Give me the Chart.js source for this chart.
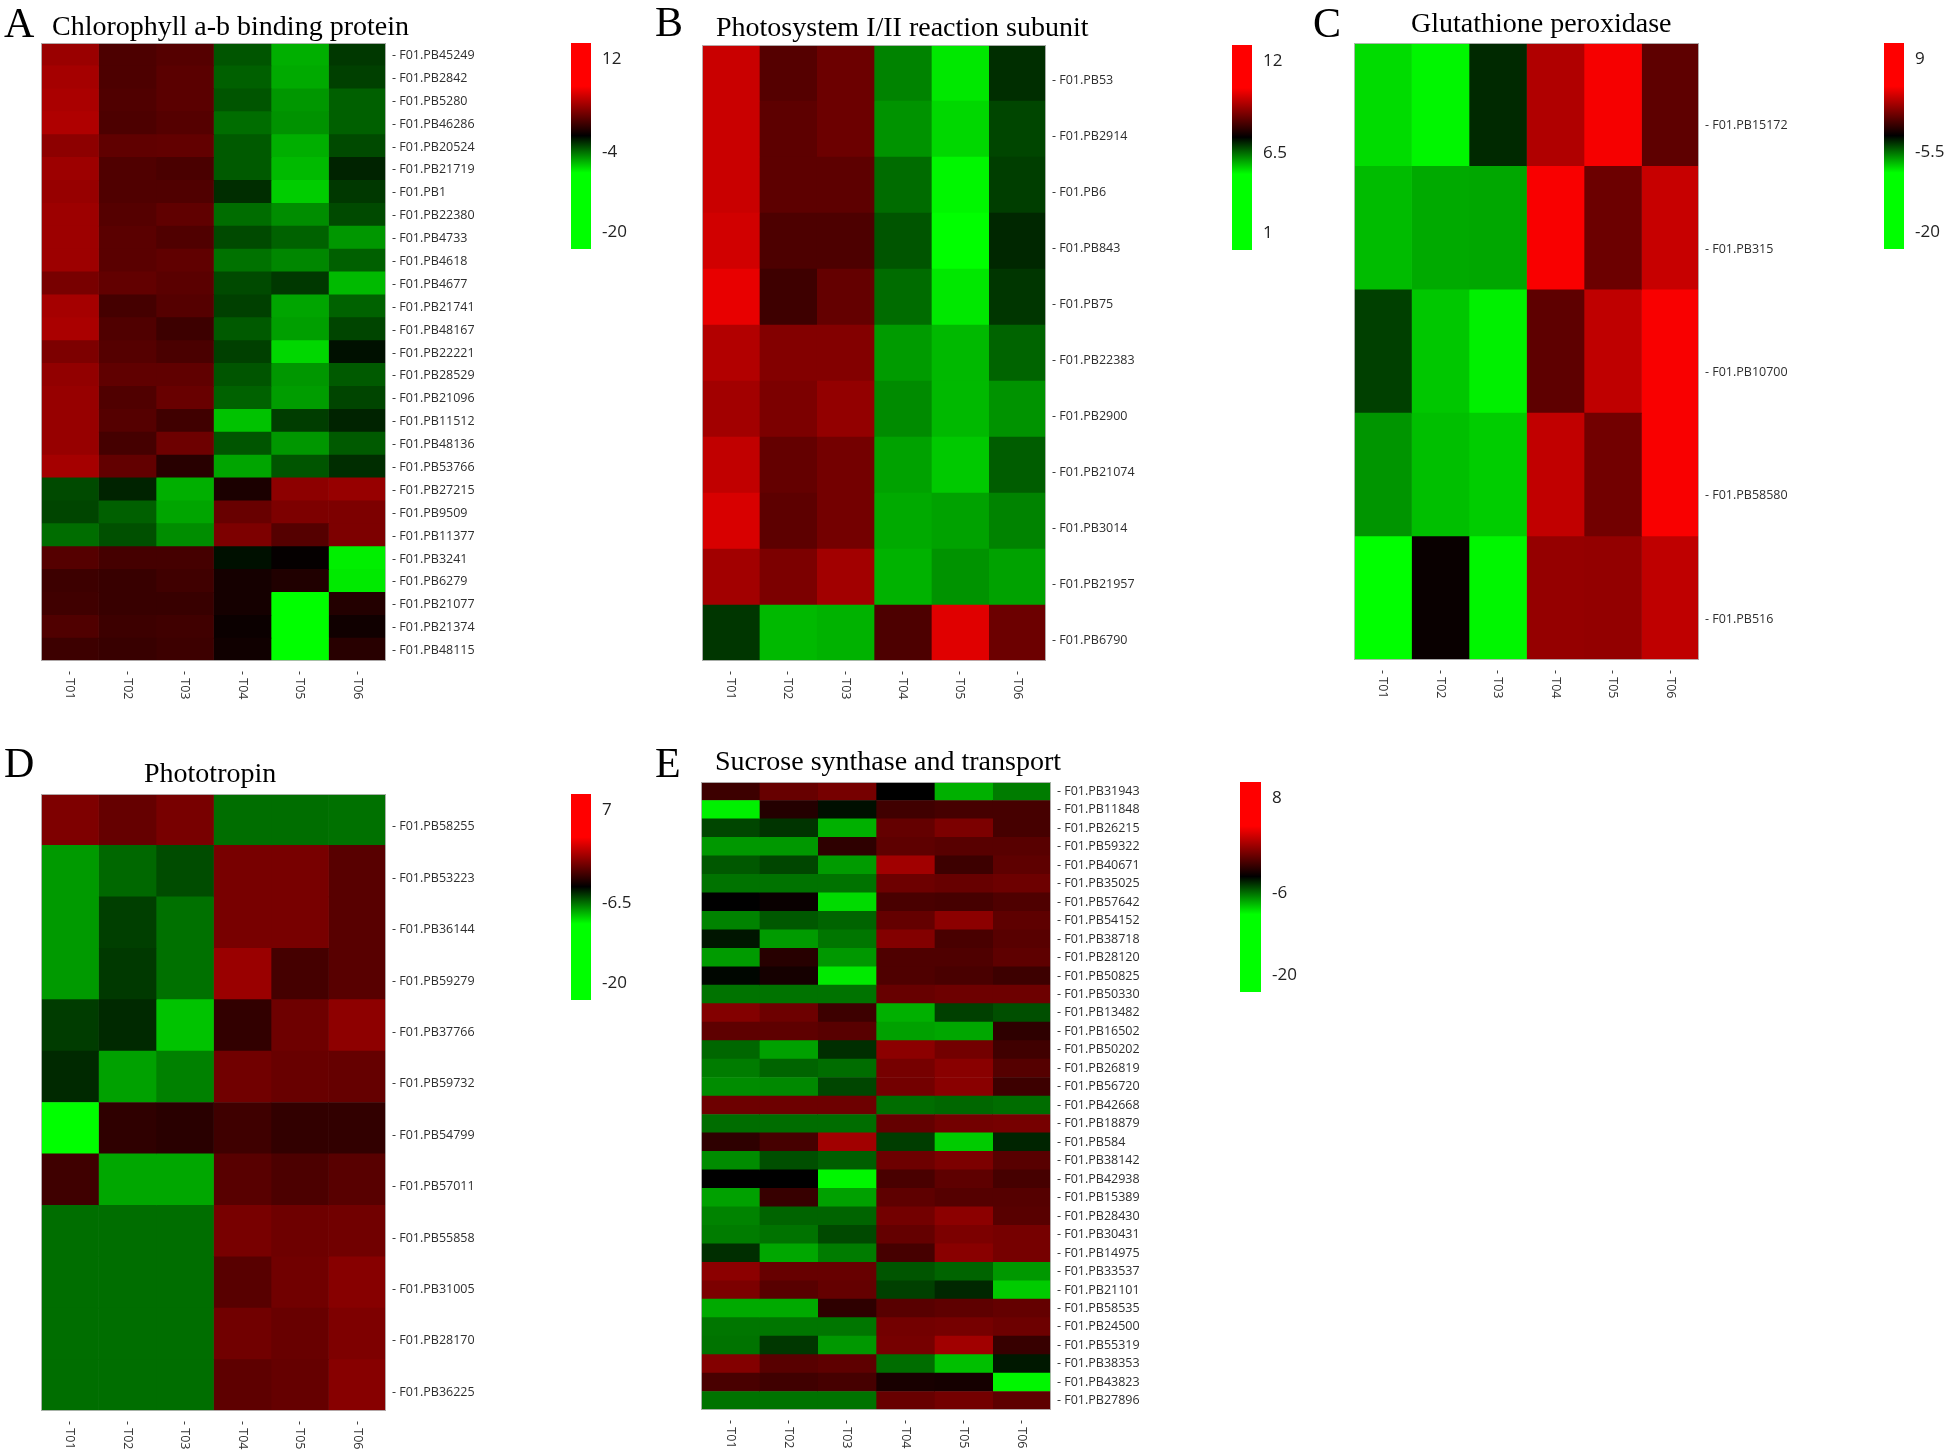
<!DOCTYPE html>
<html>
<head>
<meta charset="utf-8">
<script src="https://cdn.jsdelivr.net/npm/chart.js@4.4.1/dist/chart.umd.min.js"></script>
<style>
  body { margin: 0; background: #fff; }
  #page { position: relative; width: 1946px; height: 1453px; overflow: hidden; background: #fff; }
  canvas { position: absolute; }
  .lettre, .titre { position: absolute; font-family: "Liberation Serif", "Times New Roman", serif; line-height: 0; color: #000; white-space: nowrap; }
  .lettre { font-size: 42px; }
  .titre { font-size: 28px; }
</style>
</head>
<body>
<div id="page">
  <canvas id="chartA" width="660" height="720" style="left:0px;top:0px"></canvas>
  <canvas id="chartB" width="640" height="720" style="left:660px;top:0px"></canvas>
  <canvas id="chartC" width="646" height="720" style="left:1300px;top:0px"></canvas>
  <canvas id="chartD" width="660" height="733" style="left:0px;top:720px"></canvas>
  <canvas id="chartE" width="640" height="733" style="left:660px;top:720px"></canvas>

  <div class="lettre" style="left:4px;top:23px">A</div>
  <div class="titre" style="left:52px;top:26px">Chlorophyll a-b binding protein</div>
  <div class="lettre" style="left:655px;top:22px">B</div>
  <div class="titre" style="left:716px;top:27px">Photosystem I/II reaction subunit</div>
  <div class="lettre" style="left:1313px;top:23px">C</div>
  <div class="titre" style="left:1411px;top:23px">Glutathione peroxidase</div>
  <div class="lettre" style="left:4px;top:763px">D</div>
  <div class="titre" style="left:144px;top:773px">Phototropin</div>
  <div class="lettre" style="left:655px;top:763px">E</div>
  <div class="titre" style="left:715px;top:761px">Sucrose synthase and transport</div>
</div>

<script>
// colonnes communes aux cinq cartes
const colonnes = ['T01', 'T02', 'T03', 'T04', 'T05', 'T06'];

// A - Chlorophyll a-b binding protein
const genesA = ['F01.PB45249', 'F01.PB2842', 'F01.PB5280', 'F01.PB46286', 'F01.PB20524', 'F01.PB21719',
  'F01.PB1', 'F01.PB22380', 'F01.PB4733', 'F01.PB4618', 'F01.PB4677', 'F01.PB21741', 'F01.PB48167',
  'F01.PB22221', 'F01.PB28529', 'F01.PB21096', 'F01.PB11512', 'F01.PB48136', 'F01.PB53766',
  'F01.PB27215', 'F01.PB9509', 'F01.PB11377', 'F01.PB3241', 'F01.PB6279', 'F01.PB21077',
  'F01.PB21374', 'F01.PB48115'];
const valeursA = [
  [1.8, -1.1, -0.8, -7.2, -10.6, -6.1],
  [2.2, -1.1, -0.6, -7.6, -10.4, -6.4],
  [2.4, -1.0, -0.6, -7.2, -9.7, -7.6],
  [2.6, -1.1, -0.8, -8.1, -9.5, -7.6],
  [1.3, -0.4, -0.3, -7.4, -10.6, -6.8],
  [1.9, -1.0, -1.2, -7.4, -11.0, -5.3],
  [1.7, -1.0, -1.0, -5.7, -11.7, -6.1],
  [1.9, -0.8, -0.4, -8.1, -9.3, -6.8],
  [1.9, -0.6, -1.0, -6.8, -7.7, -9.7],
  [1.9, -0.6, -0.4, -8.3, -9.1, -7.6],
  [0.5, -0.3, -0.6, -6.8, -6.1, -11.0],
  [2.2, -1.4, -0.8, -6.4, -10.2, -7.7],
  [2.4, -1.0, -1.7, -7.4, -10.0, -6.6],
  [0.7, -0.8, -1.2, -6.4, -12.1, -4.6],
  [1.5, -0.4, -0.4, -7.2, -9.7, -7.4],
  [1.7, -1.0, -0.1, -7.7, -9.9, -6.6],
  [1.7, -0.8, -1.6, -11.3, -6.3, -5.3],
  [1.7, -1.4, 0.1, -7.2, -9.7, -7.4],
  [2.2, -0.3, -2.5, -10.2, -7.2, -5.7],
  [-6.8, -5.3, -10.6, -3.0, 1.3, 1.7],
  [-6.6, -7.6, -10.2, -0.1, 0.7, 0.7],
  [-8.1, -7.0, -9.3, 0.7, -0.8, 0.7],
  [-0.8, -1.4, -1.4, -4.6, -3.8, -13.0],
  [-1.7, -1.9, -1.6, -3.2, -2.8, -12.8],
  [-1.6, -1.9, -1.9, -3.2, -18, -2.7],
  [-1.0, -1.7, -1.6, -3.6, -18, -3.4],
  [-1.7, -1.9, -1.7, -3.4, -18, -2.5]
];
const echelleA = [-20, -4, 12];

// B - Photosystem I/II reaction subunit
const genesB = ['F01.PB53', 'F01.PB2914', 'F01.PB6', 'F01.PB843', 'F01.PB75', 'F01.PB22383',
  'F01.PB2900', 'F01.PB21074', 'F01.PB3014', 'F01.PB21957', 'F01.PB6790'];
const valeursB = [
  [9.1, 7.6, 7.9, 4.8, 3.5, 5.9],
  [9.1, 7.7, 7.9, 4.6, 3.7, 5.6],
  [9.1, 7.7, 7.7, 5.1, 3.3, 5.7],
  [9.2, 7.5, 7.5, 5.4, 2.0, 6.0],
  [9.5, 7.3, 7.8, 5.1, 3.5, 5.8],
  [8.8, 8.2, 8.2, 4.5, 4.1, 5.2],
  [8.6, 8.1, 8.4, 4.7, 4.1, 4.6],
  [9.0, 7.8, 8.0, 4.4, 3.9, 5.3],
  [9.3, 7.7, 8.0, 4.3, 4.4, 4.8],
  [8.6, 8.1, 8.6, 4.2, 4.6, 4.4],
  [5.8, 4.1, 4.2, 7.5, 9.4, 7.9]
];
const echelleB = [1, 6.5, 12];

// C - Glutathione peroxidase
const genesC = ['F01.PB15172', 'F01.PB315', 'F01.PB10700', 'F01.PB58580', 'F01.PB516'];
const valeursC = [
  [-13.0, -13.9, -6.9, 0.5, 2.9, -2.3],
  [-11.9, -11.3, -11.2, 3.0, -1.8, 1.3],
  [-7.7, -12.3, -13.7, -2.3, 1.0, 3.0],
  [-10.6, -12.0, -12.5, 1.1, -1.6, 3.0],
  [-15, -5.2, -13.9, -0.4, -0.5, 1.0]
];
const echelleC = [-20, -5.5, 9];

// D - Phototropin
const genesD = ['F01.PB58255', 'F01.PB53223', 'F01.PB36144', 'F01.PB59279', 'F01.PB37766', 'F01.PB59732',
  'F01.PB54799', 'F01.PB57011', 'F01.PB55858', 'F01.PB31005', 'F01.PB28170', 'F01.PB36225'];
const valeursD = [
  [-2.5, -3.3, -2.7, -10.0, -10.0, -10.1],
  [-11.4, -9.8, -8.9, -2.7, -2.7, -3.7],
  [-11.4, -8.5, -10.1, -2.7, -2.7, -3.7],
  [-11.4, -8.3, -10.1, -1.6, -4.3, -3.7],
  [-8.4, -7.8, -12.7, -4.9, -3.0, -2.0],
  [-7.8, -11.6, -10.6, -2.9, -3.2, -3.3],
  [-16, -5.0, -5.2, -4.5, -4.9, -4.9],
  [-4.5, -11.8, -11.8, -3.7, -4.1, -3.7],
  [-10.0, -10.0, -10.0, -2.7, -3.0, -2.9],
  [-10.0, -10.0, -10.0, -3.7, -2.9, -2.2],
  [-10.0, -10.0, -10.0, -2.9, -3.2, -2.5],
  [-10.0, -10.0, -10.0, -3.5, -3.3, -2.2]
];
const echelleD = [-20, -6.5, 7];

// E - Sucrose synthase and transport
const genesE = ['F01.PB31943', 'F01.PB11848', 'F01.PB26215', 'F01.PB59322', 'F01.PB40671', 'F01.PB35025',
  'F01.PB57642', 'F01.PB54152', 'F01.PB38718', 'F01.PB28120', 'F01.PB50825', 'F01.PB50330',
  'F01.PB13482', 'F01.PB16502', 'F01.PB50202', 'F01.PB26819', 'F01.PB56720', 'F01.PB42668',
  'F01.PB18879', 'F01.PB584', 'F01.PB38142', 'F01.PB42938', 'F01.PB15389', 'F01.PB28430',
  'F01.PB30431', 'F01.PB14975', 'F01.PB33537', 'F01.PB21101', 'F01.PB58535', 'F01.PB24500',
  'F01.PB55319', 'F01.PB38353', 'F01.PB43823', 'F01.PB27896'];
const valeursE = [
  [-4.0, -2.6, -2.1, -6.0, -11.8, -10.1],
  [-13.9, -4.8, -6.5, -3.9, -3.7, -3.7],
  [-8.3, -7.7, -11.8, -2.7, -1.9, -3.7],
  [-11.0, -11.0, -4.5, -2.9, -3.1, -3.1],
  [-8.9, -8.3, -11.1, -0.7, -4.0, -2.9],
  [-9.8, -9.8, -9.8, -2.4, -2.6, -2.4],
  [-6.0, -5.7, -13.2, -3.6, -3.7, -3.4],
  [-10.3, -8.9, -9.3, -2.7, -1.4, -2.9],
  [-6.7, -11.1, -9.9, -1.7, -3.6, -3.1],
  [-11.1, -4.7, -11.0, -3.4, -3.4, -2.9],
  [-6.2, -5.3, -13.7, -3.4, -3.6, -4.0],
  [-9.8, -9.8, -9.8, -2.6, -2.4, -2.4],
  [-1.7, -2.4, -4.0, -11.8, -8.1, -8.6],
  [-2.9, -2.9, -3.1, -11.3, -11.5, -4.5],
  [-9.4, -11.3, -7.5, -1.4, -2.2, -3.9],
  [-10.1, -9.3, -9.6, -2.1, -1.5, -3.2],
  [-10.6, -10.5, -8.3, -2.2, -1.5, -4.0],
  [-2.4, -2.4, -2.4, -9.6, -9.4, -9.6],
  [-9.6, -9.6, -9.6, -2.7, -2.2, -2.1],
  [-4.5, -3.7, -0.7, -8.0, -12.7, -7.2],
  [-10.6, -8.6, -9.1, -2.4, -1.9, -3.1],
  [-6.0, -6.0, -14.1, -3.6, -2.9, -3.7],
  [-11.3, -4.2, -11.3, -2.9, -3.2, -3.2],
  [-10.3, -9.3, -9.3, -2.2, -1.4, -3.1],
  [-10.1, -9.8, -8.4, -2.7, -1.9, -2.1],
  [-7.5, -11.5, -10.1, -3.7, -1.5, -2.1],
  [-1.4, -2.6, -2.6, -8.8, -9.3, -11.0],
  [-1.9, -3.1, -2.7, -8.1, -7.3, -12.7],
  [-11.6, -11.6, -4.5, -3.1, -2.9, -2.7],
  [-9.9, -9.9, -9.9, -2.2, -2.1, -2.4],
  [-9.8, -7.8, -11.0, -2.1, -0.7, -4.2],
  [-1.7, -3.1, -2.9, -9.6, -12.3, -6.8],
  [-3.6, -3.9, -3.7, -5.2, -5.3, -14.1],
  [-9.8, -9.8, -9.8, -2.6, -2.2, -2.9]
];
const echelleE = [-20, -6, 8];

// échelle vert - noir - rouge (saturée à 60 % de chaque demi-plage)
function couleur(v, ech) {
  const [mn, md, mx] = ech;
  if (v >= md) {
    const t = Math.min(1, (v - md) / ((mx - md) * 0.6));
    return 'rgb(' + Math.round(255 * t) + ',0,0)';
  }
  const t = Math.min(1, (md - v) / ((md - mn) * 0.6));
  return 'rgb(0,' + Math.round(255 * t) + ',0)';
}

// aspect de la barre de légende (haut = max, bas = min)
const stopsLegende = [[0, '#ff0000'], [0.21, '#ff0000'], [0.45, '#000000'], [0.63, '#00ff00'], [1, '#00ff00']];

const policeLabels = '"Open Sans", "DejaVu Sans", sans-serif';

// plugin : étiquettes des colonnes, contour et barre de couleur
function decor(ech, barre) {
  return {
    id: 'decor',
    afterDraw(chart) {
      const ctx = chart.ctx;
      const area = chart.chartArea;
      const sx = chart.scales.x;
      ctx.save();
      ctx.strokeStyle = 'rgba(185,185,185,0.9)';
      ctx.lineWidth = 1;
      ctx.strokeRect(area.left + 0.5, area.top + 0.5, area.right - area.left - 1, area.bottom - area.top - 1);

      ctx.fillStyle = '#333';
      ctx.font = '12.5px ' + policeLabels;
      ctx.textAlign = 'left';
      ctx.textBaseline = 'middle';
      colonnes.forEach((c, j) => {
        const px = sx.getPixelForValue(j + 0.5);
        ctx.save();
        ctx.translate(px, area.bottom + 10);
        ctx.rotate(Math.PI / 2);
        ctx.fillText('- ' + c, 0, 0);
        ctx.restore();
      });

      // barre de couleur
      const [mn, md, mx] = ech;
      const grad = ctx.createLinearGradient(0, barre.y, 0, barre.y + barre.h);
      stopsLegende.forEach(([s, c]) => grad.addColorStop(s, c));
      ctx.fillStyle = grad;
      ctx.fillRect(barre.x, barre.y, barre.w, barre.h);

      ctx.fillStyle = '#222';
      ctx.font = '17px ' + policeLabels;
      ctx.textBaseline = 'middle';
      const textes = [mx, md, mn];
      const positions = [0.078, 0.53, 0.92];
      textes.forEach((t, i) => {
        ctx.fillText(String(t), barre.x + barre.w + 11, barre.y + positions[i] * barre.h);
      });
      ctx.restore();
    }
  };
}

function creerHeatmap(id, genes, valeurs, ech, cadre) {
  const canvas = document.getElementById(id);
  const W = canvas.width, H = canvas.height;
  const datasets = colonnes.map((c, j) => ({
    label: c,
    data: genes.map(() => [j, j + 1]),
    backgroundColor: valeurs.map(r => couleur(r[j], ech)),
    borderWidth: 0,
    barPercentage: 1,
    categoryPercentage: 1,
    grouped: false
  }));
  return new Chart(canvas, {
    type: 'bar',
    data: { labels: genes, datasets: datasets },
    options: {
      indexAxis: 'y',
      responsive: false,
      animation: false,
      devicePixelRatio: 1,
      layout: {
        padding: {
          left: cadre.gauche,
          top: cadre.haut,
          right: W - cadre.droite - cadre.axe,
          bottom: H - cadre.bas
        }
      },
      plugins: { legend: { display: false }, tooltip: { enabled: false } },
      scales: {
        x: { type: 'linear', min: 0, max: 6, display: false },
        y: {
          position: 'right',
          grid: { display: false, drawTicks: false },
          border: { display: false },
          ticks: {
            padding: 6,
            color: '#2e2e2e',
            autoSkip: false,
            labelOffset: cadre.decalage,
            font: { family: policeLabels, size: 12.5 },
            callback: (v, i) => '- ' + genes[i]
          },
          afterFit: s => { s.width = cadre.axe; }
        }
      }
    },
    plugins: [decor(ech, cadre.barre)]
  });
}

creerHeatmap('chartA', genesA, valeursA, echelleA,
  { gauche: 41, haut: 43, droite: 386, bas: 661, axe: 170, decalage: 1, barre: { x: 571, y: 43, w: 20, h: 206 } });
creerHeatmap('chartB', genesB, valeursB, echelleB,
  { gauche: 42, haut: 45, droite: 386, bas: 661, axe: 170, decalage: 7, barre: { x: 572, y: 45, w: 20, h: 205 } });
creerHeatmap('chartC', genesC, valeursC, echelleC,
  { gauche: 54, haut: 43, droite: 399, bas: 660, axe: 170, decalage: 21, barre: { x: 584, y: 43, w: 20, h: 206 } });
creerHeatmap('chartD', genesD, valeursD, echelleD,
  { gauche: 41, haut: 74, droite: 386, bas: 691, axe: 170, decalage: 7, barre: { x: 571, y: 74, w: 20, h: 206 } });
creerHeatmap('chartE', genesE, valeursE, echelleE,
  { gauche: 41, haut: 62, droite: 391, bas: 690, axe: 170, decalage: 0, barre: { x: 580, y: 62, w: 21, h: 210 } });
</script>
</body>
</html>
